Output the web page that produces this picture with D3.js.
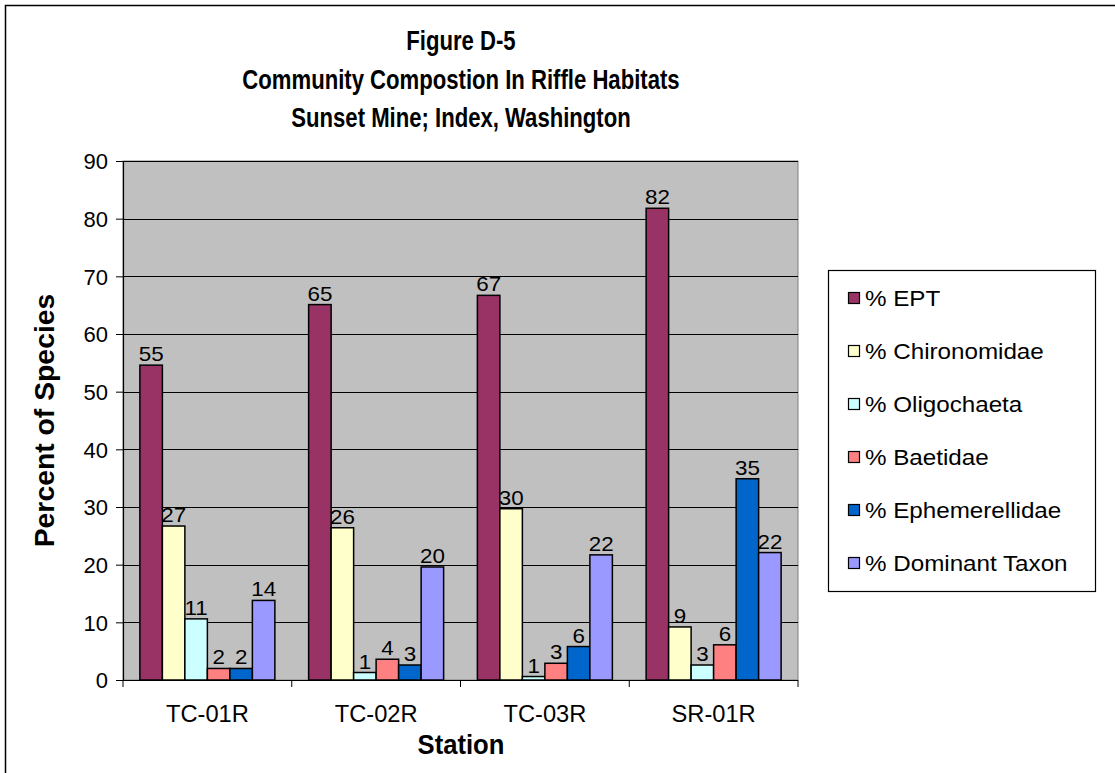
<!DOCTYPE html>
<html>
<head>
<meta charset="utf-8">
<script src="https://cdn.jsdelivr.net/npm/d3@7"></script>
<style>
  html, body { margin: 0; padding: 0; background: #fff; }
  svg { display: block; font-family: "Liberation Sans", Arial, sans-serif; }
</style>
</head>
<body>
<svg id="chart" width="1115" height="773"></svg>
<script>
const titleLines = ["Figure D-5", "Community Compostion In Riffle Habitats", "Sunset Mine; Index, Washington"];
const stations = ["TC-01R", "TC-02R", "TC-03R", "SR-01R"];
const seriesNames = ["% EPT", "% Chironomidae", "% Oligochaeta", "% Baetidae", "% Ephemerellidae", "% Dominant Taxon"];
const seriesColors = ["#993366", "#FFFFCC", "#CCFFFF", "#FF8080", "#0066CC", "#9999FF"];
const eptValues = [54.6, 65.1, 66.7, 81.8];
const chironomidaeValues = [26.7, 26.4, 29.7, 9.2];
const oligochaetaValues = [10.6, 1.3, 0.6, 2.6];
const baetidaeValues = [2.0, 3.6, 2.9, 6.1];
const ephemerellidaeValues = [2.0, 2.6, 5.8, 34.9];
const dominantValues = [13.8, 19.6, 21.7, 22.1];
const yTicks = [0, 10, 20, 30, 40, 50, 60, 70, 80, 90];
const yLabel = "Percent of Species";
const xLabel = "Station";

const seriesValues = [eptValues, chironomidaeValues, oligochaetaValues, baetidaeValues, ephemerellidaeValues, dominantValues];

const svg = d3.select("#chart");
const plot = { left: 123, right: 798, top: 161, bottom: 680 };

function stext(g, x, y, str, opts) {
  return g.append("text")
    .attr("transform", `translate(${x},${y}) scale(${opts.sx || 1},1)`)
    .attr("text-anchor", opts.anchor || "middle")
    .attr("font-size", opts.size)
    .attr("font-weight", opts.weight || "normal")
    .attr("fill", "#000")
    .text(str);
}

// outer border
svg.append("rect").attr("x", 5.5).attr("y", 5.5).attr("width", 1200).attr("height", 900)
  .attr("fill", "#fff").attr("stroke", "#000").attr("stroke-width", 1.5);

// scales
const x0 = d3.scaleBand().domain(stations).range([plot.left, plot.right]).paddingInner(0).paddingOuter(0);
const gw = x0.bandwidth();
const x1 = d3.scaleBand().domain(d3.range(seriesNames.length))
  .range([gw * 0.1, gw * 0.9]).paddingInner(0).paddingOuter(0);
const y = d3.scaleLinear().domain([0, 90]).range([plot.bottom, plot.top]);

// plot background
svg.append("rect").attr("x", plot.left).attr("y", plot.top)
  .attr("width", plot.right - plot.left).attr("height", plot.bottom - plot.top)
  .attr("fill", "#C0C0C0").attr("stroke", "#808080").attr("stroke-width", 1);

// gridlines
svg.append("g").selectAll("line").data(yTicks.filter(d => d > 0)).join("line")
  .attr("x1", plot.left).attr("x2", plot.right)
  .attr("y1", d => Math.round(y(d)) + 0.5).attr("y2", d => Math.round(y(d)) + 0.5)
  .attr("stroke", "#000").attr("stroke-width", 1);

// y axis
const yAxis = d3.axisLeft(y).tickValues(yTicks).tickSize(7).tickPadding(8).tickFormat(d3.format("d"));
const yg = svg.append("g").attr("transform", `translate(${plot.left},0)`).call(yAxis);
yg.select(".domain").attr("stroke", "#000").attr("stroke-width", 1.2);
yg.selectAll(".tick line").attr("stroke", "#000");
yg.selectAll(".tick text").attr("font-size", 22).attr("fill", "#000")
  .attr("font-family", "Liberation Sans, Arial, sans-serif").attr("dy", "0.36em");

// x axis line and tick marks between categories
const xg = svg.append("g");
xg.append("line").attr("x1", plot.left).attr("x2", plot.right)
  .attr("y1", plot.bottom + 0.5).attr("y2", plot.bottom + 0.5).attr("stroke", "#000").attr("stroke-width", 1.2);
const sep = stations.map(s => x0(s)).concat([plot.right]);
xg.selectAll("line.sep").data(sep).join("line").attr("class", "sep")
  .attr("x1", d => d).attr("x2", d => d).attr("y1", plot.bottom).attr("y2", plot.bottom + 7)
  .attr("stroke", "#000");
stations.forEach(s => stext(xg, x0(s) + gw / 2, 722, s, { size: 23, sx: 1.03 }));

// bars
const groups = svg.append("g").selectAll("g").data(stations).join("g")
  .attr("transform", d => `translate(${x0(d)},0)`);
groups.each(function (st, si) {
  const g = d3.select(this);
  seriesNames.forEach((name, k) => {
    const v = seriesValues[k][si];
    g.append("rect").attr("x", x1(k)).attr("y", y(v)).attr("width", x1.bandwidth())
      .attr("height", y(0) - y(v)).attr("fill", seriesColors[k])
      .attr("stroke", "#000").attr("stroke-width", 1.5);
  });
});
// data labels
groups.each(function (st, si) {
  const g = d3.select(this);
  seriesNames.forEach((name, k) => {
    const v = seriesValues[k][si];
    stext(g, x1(k) + x1.bandwidth() / 2, y(v) - 4, d3.format(".0f")(v), { size: 20, sx: 1.12 });
  });
});

// titles
const tg = svg.append("g");
const titleY = [50, 89, 127];
titleLines.forEach((t, i) => stext(tg, 461, titleY[i], t, { size: 28, weight: "bold", sx: 0.79 }));

// axis titles
stext(svg, 461, 754, xLabel, { size: 27, weight: "bold", sx: 0.95 });
svg.append("text")
  .attr("transform", `translate(54,${(plot.top + plot.bottom) / 2}) rotate(-90) scale(1.05,1)`)
  .attr("text-anchor", "middle").attr("font-size", 27).attr("font-weight", "bold").text(yLabel);

// legend
const lg = svg.append("g");
lg.append("rect").attr("x", 828.5).attr("y", 270.5).attr("width", 267).attr("height", 321)
  .attr("fill", "#fff").attr("stroke", "#000").attr("stroke-width", 1.2);
const legY = d3.scalePoint().domain(seriesNames).range([298, 563]);
seriesNames.forEach((name, k) => {
  const cy = legY(name);
  lg.append("rect").attr("x", 848.5).attr("y", cy - 5.5).attr("width", 11).attr("height", 11)
    .attr("fill", seriesColors[k]).attr("stroke", "#000").attr("stroke-width", 1.2);
  stext(lg, 865, cy + 8, name, { size: 22, sx: 1.1, anchor: "start" });
});
</script>
</body>
</html>
